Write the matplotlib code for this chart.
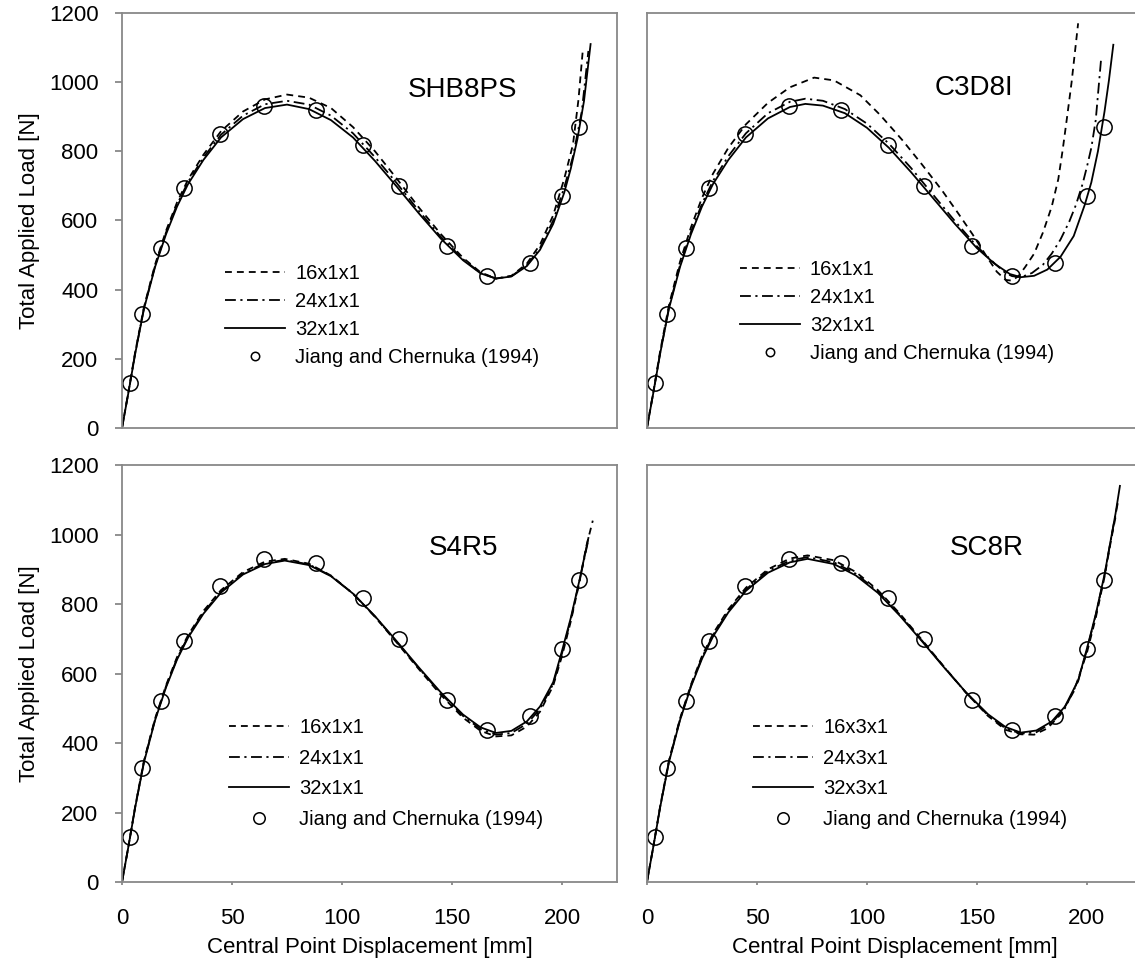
import matplotlib
matplotlib.use("Agg")
import matplotlib.pyplot as plt

plt.rcParams['font.family'] = ['Liberation Sans', 'DejaVu Sans']

# reference data (Jiang and Chernuka 1994), same in every panel
exp_x = [3.7, 8.9, 17.6, 28.4, 44.6, 64.6, 88.1, 109.5, 126.0, 147.7, 166.0, 185.5, 199.9, 207.6]
exp_y = [130, 329, 520, 694, 851, 931, 919, 818, 699, 525, 438, 477, 672, 870]

# SHB8PS
shb_16 = [(0, 0), (3, 108), (6, 220), (10, 350), (15, 472), (20, 570), (25, 652), (30, 718), (37, 790),
          (45, 858), (55, 915), (65, 950), (75, 964), (85, 955), (95, 925), (105, 870), (115, 800),
          (125, 720), (135, 637), (145, 560), (155, 492), (163, 450), (170, 432), (177, 440), (184, 475),
          (190, 530), (196, 615), (201, 720), (205, 820), (207.5, 950), (209.5, 1095)]
shb_24 = [(0, 0), (3, 106), (6, 217), (10, 347), (15, 468), (20, 565), (25, 646), (30, 711), (37, 782),
          (45, 848), (55, 903), (65, 936), (75, 946), (85, 935), (95, 903), (105, 852), (115, 783),
          (125, 707), (135, 627), (145, 552), (155, 488), (163, 448), (170, 432), (177, 439), (184, 470),
          (190, 520), (196, 600), (201, 695), (205, 785), (209, 915), (212, 1090)]
shb_32 = [(0, 0), (3, 105), (6, 215), (10, 345), (15, 465), (20, 560), (25, 640), (30, 705), (37, 775),
          (45, 840), (55, 893), (65, 925), (75, 935), (85, 922), (95, 890), (105, 840), (115, 772),
          (125, 697), (135, 620), (145, 547), (155, 485), (163, 447), (170, 432), (177, 438), (184, 468),
          (190, 515), (196, 590), (201, 680), (204, 750), (207, 835), (210, 945), (213, 1110)]

# C3D8I
c3d_16 = [(0, 0), (3, 108), (6, 222), (10, 355), (15, 480), (20, 580), (25, 665), (30, 735), (37, 810),
          (45, 878), (55, 940), (65, 985), (76, 1013), (85, 1005), (97, 962), (106, 905), (116, 833),
          (125, 762), (134, 688), (141, 625), (148, 560), (154, 500), (159, 452), (163, 428), (166, 426),
          (169, 440), (172, 466), (176, 504), (180, 565), (184, 640), (187, 720), (189, 805), (191, 900),
          (193, 998), (196, 1170)]
c3d_24 = [(0, 0), (3, 106), (6, 217), (10, 348), (15, 470), (20, 567), (25, 648), (30, 714), (37, 786),
          (45, 852), (55, 910), (65, 943), (72, 952), (80, 946), (90, 922), (100, 880), (110, 822),
          (120, 752), (130, 675), (140, 598), (150, 525), (158, 476), (163, 448), (166, 439), (170, 436),
          (175, 448), (180, 472), (184, 504), (188, 545), (192, 597), (195, 645), (198, 705), (200, 755),
          (202, 810), (204, 890), (206.5, 1071)]
c3d_32 = [(0, 0), (3, 105), (6, 215), (10, 345), (15, 465), (20, 560), (25, 640), (30, 705), (37, 775),
          (45, 840), (55, 895), (65, 928), (72, 937), (80, 932), (90, 910), (100, 868), (110, 810),
          (120, 740), (130, 665), (140, 590), (150, 520), (158, 475), (165, 445), (170, 436), (176, 440),
          (182, 458), (188, 495), (194, 555), (199, 645), (202, 710), (205, 800), (208, 915), (210, 1005),
          (212, 1108)]

# S4R5
s4r5_16 = [(0, 0), (3, 106), (6, 218), (10, 350), (15, 470), (20, 566), (25, 647), (30, 710), (37, 780),
           (45, 840), (55, 892), (65, 922), (74, 930), (85, 916), (95, 882), (105, 830), (115, 763),
           (125, 688), (135, 612), (145, 538), (155, 473), (163, 435), (170, 419), (177, 422), (184, 447),
           (190, 490), (196, 565), (200, 650), (204, 750), (208, 865), (211, 965), (214, 1040)]
s4r5_24 = [(0, 0), (3, 105), (6, 216), (10, 347), (15, 467), (20, 563), (25, 643), (30, 706), (37, 776),
           (45, 836), (55, 888), (65, 918), (74, 927), (85, 914), (95, 881), (105, 830), (115, 764),
           (125, 690), (135, 615), (145, 542), (155, 478), (163, 440), (170, 424), (177, 429), (184, 455),
           (190, 498), (196, 570), (200, 658), (204, 755), (208, 868), (212, 985)]
s4r5_32 = [(0, 0), (3, 105), (6, 215), (10, 345), (15, 465), (20, 560), (25, 640), (30, 703), (37, 772),
           (45, 833), (55, 885), (65, 915), (74, 925), (85, 912), (95, 880), (105, 830), (115, 765),
           (125, 692), (135, 617), (145, 545), (155, 482), (163, 445), (170, 429), (177, 435), (184, 462),
           (190, 505), (196, 575), (200, 665), (204, 760), (208, 870), (212, 990)]

# SC8R
sc8r_16 = [(0, 0), (3, 106), (6, 218), (10, 350), (15, 470), (20, 568), (25, 650), (30, 714), (37, 785),
           (45, 847), (55, 900), (65, 931), (73, 940), (85, 926), (95, 892), (105, 840), (115, 772),
           (125, 697), (135, 620), (145, 545), (155, 478), (163, 438), (170, 425), (176, 424), (182, 442),
           (188, 482), (194, 548), (200, 660), (204, 760), (208, 878), (211, 985), (213, 1050)]
sc8r_24 = [(0, 0), (3, 105), (6, 216), (10, 347), (15, 467), (20, 565), (25, 646), (30, 710), (37, 780),
           (45, 842), (55, 895), (65, 925), (73, 935), (85, 920), (95, 887), (105, 836), (115, 769),
           (125, 695), (135, 619), (145, 545), (155, 480), (163, 442), (170, 427), (177, 431), (184, 458),
           (190, 500), (196, 578), (200, 668), (204, 768), (208, 882), (211, 990), (214, 1090)]
sc8r_32 = [(0, 0), (3, 105), (6, 215), (10, 345), (15, 465), (20, 562), (25, 642), (30, 706), (37, 776),
           (45, 838), (55, 890), (65, 920), (73, 930), (85, 915), (95, 882), (105, 832), (115, 766),
           (125, 693), (135, 618), (145, 546), (155, 483), (163, 446), (170, 430), (177, 436), (184, 462),
           (190, 505), (196, 580), (200, 672), (204, 770), (208, 885), (211, 990), (213, 1060), (215, 1140)]

panels = [
    ("SHB8PS", [shb_16, shb_24, shb_32], ["16x1x1", "24x1x1", "32x1x1"]),
    ("C3D8I", [c3d_16, c3d_24, c3d_32], ["16x1x1", "24x1x1", "32x1x1"]),
    ("S4R5", [s4r5_16, s4r5_24, s4r5_32], ["16x1x1", "24x1x1", "32x1x1"]),
    ("SC8R", [sc8r_16, sc8r_24, sc8r_32], ["16x3x1", "24x3x1", "32x3x1"]),
]

# axes boxes in figure fractions [left, bottom, width, height]
boxes = [
    [0.1075, 0.5565, 0.4361, 0.4301],
    [0.5700, 0.5565, 0.4361, 0.4301],
    [0.1075, 0.0860, 0.4361, 0.4321],
    [0.5700, 0.0860, 0.4361, 0.4321],
]
title_pos = [(0.687, 0.814), (0.66, 0.82), (0.69, 0.80), (0.687, 0.80)]
legend_pos = [(0.208, 0.395), (0.187, 0.405), (0.216, 0.393), (0.2135, 0.393)]
legend_ms = [0.55, 0.55, 0.75, 0.75]
legend_sp = [0.45, 0.45, 0.58, 0.58]

styles = [(0, (3.8, 2.8)), (0, (6, 2.5, 1.2, 2.5)), '-']
spine_col = '#888888'

fig = plt.figure(figsize=(11.35, 9.65), dpi=100)

for i, (name, curves, labels) in enumerate(panels):
    ax = fig.add_axes(boxes[i])
    for curve, lab, ls in zip(curves, labels, styles):
        xs = [p[0] for p in curve]
        ys = [p[1] for p in curve]
        ax.plot(xs, ys, color='black', linestyle=ls, linewidth=1.3, label=lab)
    ax.plot(exp_x, exp_y, linestyle='none', marker='o', markersize=11, fillstyle='none',
            markeredgecolor='black', markeredgewidth=1.1, label="Jiang and Chernuka (1994)")
    ax.set_xlim(0, 225)
    ax.set_ylim(0, 1200)
    for s in ax.spines.values():
        s.set_color(spine_col)
        s.set_linewidth(1.3)
    ax.spines['right'].set_visible(i % 2 == 0)
    ax.set_xticks([0, 50, 100, 150, 200])
    ax.set_yticks(range(0, 1201, 200))
    ax.tick_params(axis='both', colors=spine_col, labelcolor='black', labelsize=16, width=1.3)
    ax.tick_params(axis='x', length=2.5, pad=16)
    ax.tick_params(axis='y', length=5, pad=12)
    if i < 2:
        ax.tick_params(axis='x', length=0, labelbottom=False)
    else:
        ax.set_xlabel("Central Point Displacement [mm]", fontsize=16, labelpad=6)
    if i % 2 == 1:
        ax.tick_params(axis='y', length=0, labelleft=False)
    else:
        ax.set_ylabel("Total Applied Load [N]", fontsize=16, labelpad=6)
    ax.text(title_pos[i][0], title_pos[i][1], name, transform=ax.transAxes,
            fontsize=20, ha='center', va='center')
    ax.legend(loc='upper left', bbox_to_anchor=legend_pos[i], frameon=False, fontsize=14.5,
              handlelength=3.0, handletextpad=0.5, labelspacing=legend_sp[i], borderpad=0,
              borderaxespad=0, markerscale=legend_ms[i])

fig.savefig("out.png", dpi=100)
